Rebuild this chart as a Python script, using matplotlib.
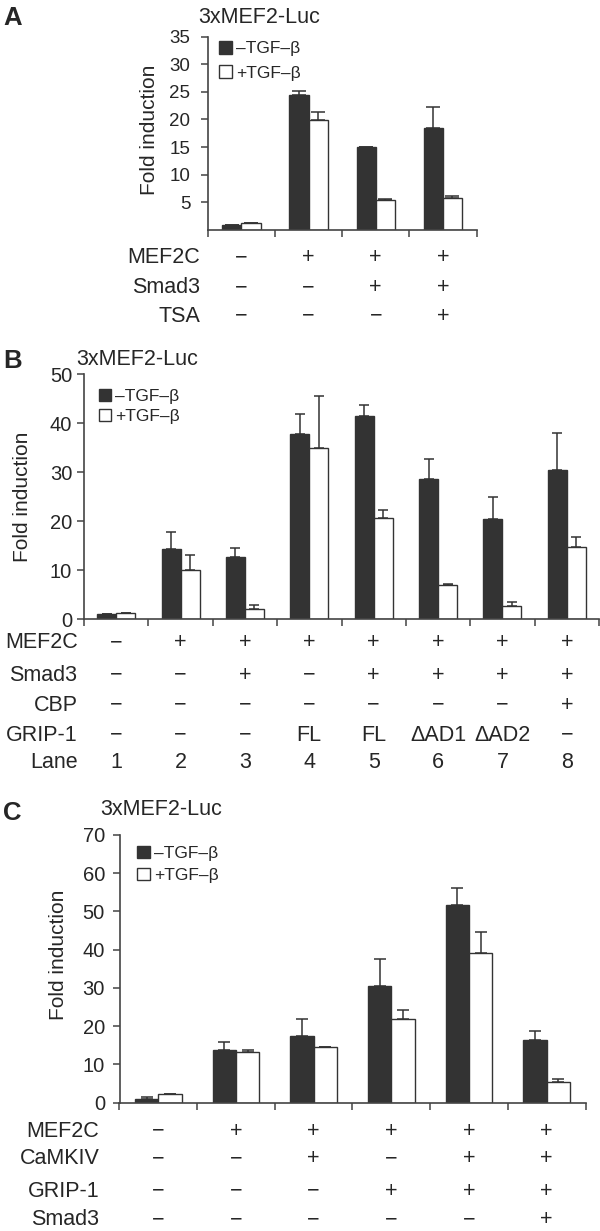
import numpy as np
import matplotlib.pyplot as plt
from matplotlib.transforms import blended_transform_factory

plt.rcParams['font.family'] = ['Liberation Sans', 'DejaVu Sans']

W, H = 600, 1231
DARK = '#333333'
TXT = '#262626'

# ---- panel A: 3xMEF2-Luc
a_black = [0.9, 24.5, 15.0, 18.4]
a_black_err = [0.0, 0.7, 0.0, 3.9]
a_white = [1.3, 19.9, 5.4, 5.8]
a_white_err = [0.0, 1.5, 0.15, 0.4]
a_mef2c = ['−', '+', '+', '+']
a_smad3 = ['−', '−', '+', '+']
a_tsa = ['−', '−', '−', '+']

# ---- panel B
b_black = [1.0, 14.4, 12.8, 37.9, 41.4, 28.7, 20.4, 30.4]
b_black_err = [0.0, 3.4, 1.8, 3.9, 2.3, 4.1, 4.5, 7.6]
b_white = [1.3, 10.1, 2.2, 35.0, 20.7, 7.1, 2.8, 14.8]
b_white_err = [0.0, 3.0, 0.7, 10.5, 1.7, 0.2, 0.7, 2.0]
b_mef2c = ['−', '+', '+', '+', '+', '+', '+', '+']
b_smad3 = ['−', '−', '+', '−', '+', '+', '+', '+']
b_cbp = ['−', '−', '−', '−', '−', '−', '−', '+']
b_grip = ['−', '−', '−', 'FL', 'FL', 'ΔAD1', 'ΔAD2', '−']
b_lane = ['1', '2', '3', '4', '5', '6', '7', '8']

# ---- panel C
c_black = [0.9, 13.8, 17.4, 30.4, 51.7, 16.5]
c_black_err = [0.5, 2.2, 4.4, 7.2, 4.4, 2.2]
c_white = [2.2, 13.3, 14.6, 22.0, 39.1, 5.4]
c_white_err = [0.0, 0.6, 0.0, 2.2, 5.5, 0.9]
c_mef2c = ['−', '+', '+', '+', '+', '+']
c_camkiv = ['−', '−', '+', '−', '+', '+']
c_grip = ['−', '−', '−', '+', '+', '+']
c_smad3 = ['−', '−', '−', '−', '−', '+']

legend_labels = ['–TGF–β', '+TGF–β']

fig = plt.figure(figsize=(W / 100, H / 100), dpi=100)


def fx(x):
    return x / W


def fy(y):
    return 1 - y / H


def make_panel(left, right, y0, ytop, ymax, yticks, black, black_err, white,
               white_err, barw, cap, tick_fs, pad, ylab_x, ylab_y, leg_xy,
               leg_fs, leg_space, leg_hl):
    ax = fig.add_axes([fx(left), fy(y0), (right - left) / W, (y0 - ytop) / H])
    n = len(black)
    x = np.arange(n)
    ax.bar(x - barw / 2, black, barw, color=DARK, edgecolor=DARK, lw=1,
           label=legend_labels[0], zorder=2)
    ax.bar(x + barw / 2, white, barw, color='white', edgecolor=DARK, lw=1,
           label=legend_labels[1], zorder=2)
    ax.errorbar(x - barw / 2, black, yerr=[np.zeros(n), black_err], fmt='none',
                ecolor=DARK, elinewidth=1.1, capsize=cap, capthick=1.1, zorder=3)
    ax.errorbar(x + barw / 2, white, yerr=[np.zeros(n), white_err], fmt='none',
                ecolor=DARK, elinewidth=1.1, capsize=cap, capthick=1.1, zorder=3)
    ax.set_xlim(-0.5, n - 0.5)
    ax.set_ylim(0, ymax)
    ax.set_xticks(np.arange(n + 1) - 0.5)
    ax.set_xticklabels([])
    ax.set_yticks(yticks)
    for s in ['top', 'right']:
        ax.spines[s].set_visible(False)
    for s in ['left', 'bottom']:
        ax.spines[s].set_color('#444444')
        ax.spines[s].set_linewidth(1.2)
    ax.tick_params(axis='both', direction='out', length=5, width=1.1,
                   color='#444444', labelcolor=TXT, labelsize=tick_fs)
    ax.tick_params(axis='y', pad=pad)
    ax.set_ylabel('Fold induction', fontsize=15, color=TXT, va='center')
    ax.yaxis.set_label_coords((ylab_x - left) / (right - left),
                              (y0 - ylab_y) / (y0 - ytop))
    ax.legend(loc='upper left', bbox_to_anchor=(fx(leg_xy[0]), fy(leg_xy[1])),
              bbox_transform=fig.transFigure, frameon=False, fontsize=leg_fs,
              handlelength=leg_hl, handleheight=leg_hl, handletextpad=0.25,
              labelspacing=leg_space, borderpad=0, borderaxespad=0,
              labelcolor=TXT)
    return ax


def table_rows(ax, rows, label_x, baselines, fs=15.5):
    tr = blended_transform_factory(ax.transData, fig.transFigure)
    for (name, vals), base in zip(rows, baselines):
        fig.text(fx(label_x), fy(base), name, ha='right', va='baseline',
                 fontsize=fs, color=TXT)
        for i, v in enumerate(vals):
            ax.text(i, fy(base), v, transform=tr, ha='center', va='baseline',
                    fontsize=fs, color=TXT, clip_on=False)


# A
axA = make_panel(207.8, 476.5, 230, 36.5, 35, [5, 10, 15, 20, 25, 30, 35],
                 a_black, a_black_err, a_white, a_white_err, 0.285, 5.2, 13.5,
                 7.5, 150, 129.5, (219, 41), 12.5, 0.5, 0.75)
table_rows(axA, [('MEF2C', a_mef2c), ('Smad3', a_smad3), ('TSA', a_tsa)],
           200, [263, 293, 321.7])
fig.text(fx(198), fy(22.7), '3xMEF2-Luc', fontsize=15.5, color=TXT, va='baseline')
fig.text(fx(3), fy(25), 'A', fontsize=18.5, fontweight='bold', color=TXT, va='baseline')

# B
axB = make_panel(84, 599, 619.3, 374.3, 50, [0, 10, 20, 30, 40, 50],
                 b_black, b_black_err, b_white, b_white_err, 0.295, 3.6, 14.5,
                 3.5, 22, 496.5, (99, 389), 12.5, 0.3, 0.68)
table_rows(axB, [('MEF2C', b_mef2c), ('Smad3', b_smad3), ('CBP', b_cbp),
                 ('GRIP-1', b_grip), ('Lane', b_lane)],
           77.5, [648, 680.7, 710.7, 740.7, 768])
fig.text(fx(76.5), fy(365), '3xMEF2-Luc', fontsize=15.5, color=TXT, va='baseline')
fig.text(fx(3), fy(368.3), 'B', fontsize=18.5, fontweight='bold', color=TXT, va='baseline')

# C
axC = make_panel(119.5, 585.5, 1102.7, 835, 70, [0, 10, 20, 30, 40, 50, 60, 70],
                 c_black, c_black_err, c_white, c_white_err, 0.30, 4.6, 14.5,
                 5.5, 59, 954.5, (137, 845.5), 12.5, 0.42, 0.72)
table_rows(axC, [('MEF2C', c_mef2c), ('CaMKIV', c_camkiv), ('GRIP-1', c_grip),
                 ('Smad3', c_smad3)],
           99.5, [1136.7, 1164, 1196.7, 1225])
fig.text(fx(100), fy(815), '3xMEF2-Luc', fontsize=15.5, color=TXT, va='baseline')
fig.text(fx(3), fy(820), 'C', fontsize=18.5, fontweight='bold', color=TXT, va='baseline')

fig.savefig('out.png', dpi=100)
